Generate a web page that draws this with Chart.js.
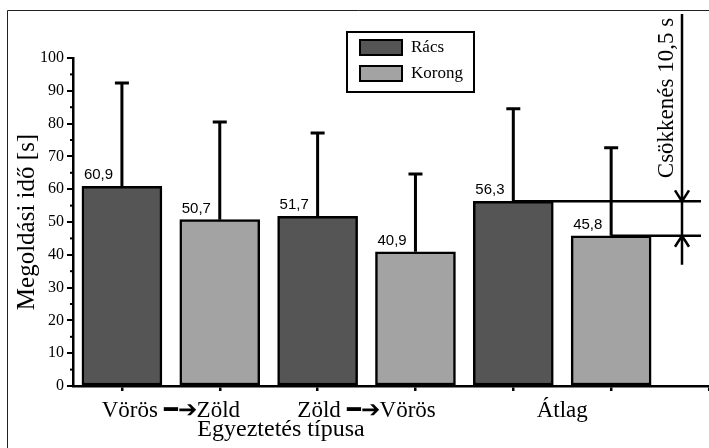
<!DOCTYPE html>
<html>
<head>
<meta charset="utf-8">
<script src="https://cdn.jsdelivr.net/npm/chart.js@4.4.1/dist/chart.umd.min.js"></script>
<style>
  html, body { margin: 0; padding: 0; background: #fff; }
  #wrap { width: 709px; height: 448px; }
</style>
</head>
<body>
<div id="wrap"><canvas id="chart"></canvas></div>
<script>
const groups = ['Vörös \u2501\u2794Zöld', 'Zöld \u2501\u2794Vörös', 'Átlag'];
const seriesNames = ['Rács', 'Korong'];
const racs = [60.9, 51.7, 56.3];
const korong = [50.7, 40.9, 45.8];
const racsErrTop = [92.4, 77.1, 84.5];
const korongErrTop = [80.5, 64.6, 72.6];
const yTicks = [0, 10, 20, 30, 40, 50, 60, 70, 80, 90, 100];
const xTitle = 'Egyeztetés típusa';
const yTitle = 'Megoldási idő [s]';

const SERIF = '"Liberation Serif", "Times New Roman", serif';
const SANS = '"Liberation Sans", Arial, sans-serif';
const darkFill = '#555555';
const lightFill = '#a3a3a3';

// bar i of group g sits at x = 2g + i + 0.5 on a linear axis
function pts(vals, i) {
    return vals.map((v, g) => ({ x: 2 * g + i + 0.5, y: v }));
}
const errTops = [racsErrTop, korongErrTop];

const extras = {
    id: 'extras',
    beforeDraw(chart) {
        const c = chart.ctx;
        c.save();
        c.strokeStyle = '#222';
        c.lineWidth = 1;
        c.beginPath();
        c.moveTo(7.5, 448);
        c.lineTo(7.5, 10.5);
        c.lineTo(709, 10.5);
        c.stroke();
        c.restore();
    },
    afterDatasetsDraw(chart) {
        const c = chart.ctx;
        const ys = chart.scales.y;
        c.save();
        c.strokeStyle = '#000';
        c.lineWidth = 3;
        chart.data.datasets.forEach((ds, di) => {
            chart.getDatasetMeta(di).data.forEach((bar, k) => {
                const yt = ys.getPixelForValue(errTops[di][k]);
                c.beginPath();
                c.moveTo(bar.x, bar.y);
                c.lineTo(bar.x, yt);
                c.moveTo(bar.x - 7, yt);
                c.lineTo(bar.x + 7, yt);
                c.stroke();
            });
        });
        c.restore();
    },
    afterDraw(chart) {
        const c = chart.ctx;
        const ys = chart.scales.y;
        const area = chart.chartArea;
        c.save();
        // minor y ticks
        c.strokeStyle = '#000';
        c.lineWidth = 2;
        for (let v = 5; v < 100; v += 10) {
            const y = ys.getPixelForValue(v);
            c.beginPath();
            c.moveTo(area.left - 3, y);
            c.lineTo(area.left, y);
            c.stroke();
        }
        // value labels
        c.fillStyle = '#000';
        c.font = '15px ' + SANS;
        c.textAlign = 'left';
        c.textBaseline = 'alphabetic';
        chart.data.datasets.forEach((ds, di) => {
            chart.getDatasetMeta(di).data.forEach((bar, k) => {
                const txt = ds.data[k].y.toFixed(1).replace('.', ',');
                c.fillText(txt, bar.x - bar.width / 2 + 2, bar.y - 7);
            });
        });
        // x title, sits left of centre as in the source figure
        c.font = '24px ' + SERIF;
        c.textAlign = 'center';
        c.fillText(xTitle, 281, 436);
        c.textAlign = 'left';
        // legend
        c.lineWidth = 2;
        c.strokeStyle = '#000';
        c.fillStyle = '#fff';
        c.fillRect(347, 32, 127, 60);
        c.strokeRect(347, 32, 127, 60);
        chart.data.datasets.forEach((ds, di) => {
            const top = 40 + di * 26;
            c.fillStyle = ds.backgroundColor;
            c.fillRect(360, top, 42, 15);
            c.strokeRect(360, top, 42, 15);
            c.fillStyle = '#000';
            c.font = '17px ' + SERIF;
            c.textBaseline = 'middle';
            c.fillText(ds.label, 411, top + 8);
        });
        // decrease annotation
        const m0 = chart.getDatasetMeta(0).data[2];
        const m1 = chart.getDatasetMeta(1).data[2];
        const y0 = ys.getPixelForValue(racs[2]);
        const y1 = ys.getPixelForValue(korong[2]);
        const ax = 682;
        c.lineWidth = 2.5;
        c.beginPath();
        c.moveTo(m0.x, y0); c.lineTo(701, y0);
        c.moveTo(m1.x, y1); c.lineTo(701, y1);
        c.moveTo(ax, 14); c.lineTo(ax, y1 + 29);
        c.moveTo(ax - 7, y0 - 11); c.lineTo(ax, y0); c.lineTo(ax + 7, y0 - 11);
        c.moveTo(ax - 7, y1 + 11); c.lineTo(ax, y1); c.lineTo(ax + 7, y1 + 11);
        c.stroke();
        const diff = (racs[2] - korong[2]).toFixed(1).replace('.', ',');
        c.translate(667, 98);
        c.rotate(-Math.PI / 2);
        c.font = '23px ' + SERIF;
        c.textAlign = 'center';
        c.textBaseline = 'middle';
        c.fillText('Csökkenés ' + diff + ' s', 0, 0);
        c.restore();
    }
};

const ctx = document.getElementById('chart');
new Chart(ctx, {
    type: 'bar',
    data: {
        datasets: [
            { label: seriesNames[0], data: pts(racs, 0), backgroundColor: darkFill },
            { label: seriesNames[1], data: pts(korong, 1), backgroundColor: lightFill }
        ]
    },
    options: {
        responsive: true,
        maintainAspectRatio: false,
        animation: false,
        devicePixelRatio: 1,
        layout: { padding: { top: 58, right: 0, left: 0, bottom: 0 } },
        datasets: {
            bar: {
                grouped: false,
                barThickness: 80,
                borderColor: '#000',
                borderWidth: 2.5,
                borderSkipped: false
            }
        },
        plugins: {
            legend: { display: false },
            tooltip: { enabled: false }
        },
        scales: {
            x: {
                type: 'linear',
                min: 0,
                max: 6.5,
                offset: false,
                afterFit(s) { s.height = 62; },
                afterBuildTicks(s) {
                    s.ticks = [1, 2, 3, 4, 5, 6].map(v => ({ value: v }));
                },
                border: { color: '#000', width: 2.5 },
                grid: { drawOnChartArea: false, tickLength: 5, color: '#000', lineWidth: 2.5 },
                ticks: {
                    color: '#000',
                    font: { family: SERIF, size: 23 },
                    padding: 6,
                    maxRotation: 0,
                    autoSkip: false,
                    callback: (v) => (v % 2 === 1 ? groups[(v - 1) / 2] : '')
                },
                title: { display: false }
            },
            y: {
                min: 0,
                max: 100,
                afterFit(s) { s.width = 73; },
                afterBuildTicks(s) { s.ticks = yTicks.map(v => ({ value: v })); },
                border: { color: '#000', width: 2.5 },
                grid: { drawOnChartArea: false, tickLength: 6, color: '#000', lineWidth: 2 },
                ticks: {
                    color: '#000',
                    font: { family: SERIF, size: 16 },
                    padding: 3
                },
                title: {
                    display: true,
                    text: yTitle,
                    color: '#000',
                    font: { family: SERIF, size: 25 },
                    padding: { top: 12, bottom: 0 }
                }
            }
        }
    },
    plugins: [extras]
});
</script>
</body>
</html>
